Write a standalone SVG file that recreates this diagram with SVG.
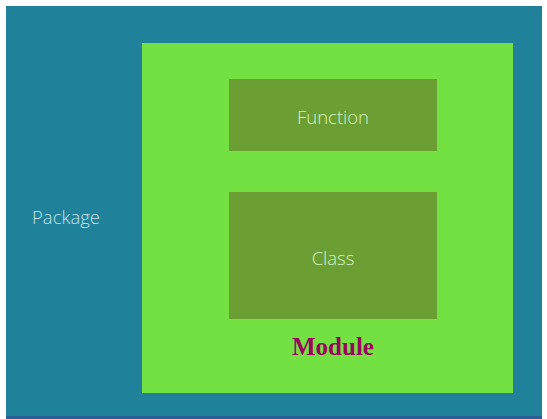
<svg xmlns="http://www.w3.org/2000/svg" width="547" height="419" viewBox="0 0 547 419">
<style>
.lbl{font-family:"Open Sans","Noto Sans","DejaVu Sans",sans-serif;font-size:18.5px;font-weight:300;text-anchor:middle;dominant-baseline:central}
.inner{fill:#6b9f34}
</style>
<rect x="0" y="0" width="547" height="419" fill="#ffffff"/>
<g id="package">
<rect x="6" y="6" width="536" height="411" fill="#20819a"/>
<rect x="6" y="416" width="536" height="3" fill="#2a5f95"/>
<text class="lbl" x="66" y="216" fill="#c2e2ea">Package</text>
</g>
<g id="module">
<rect x="142" y="43" width="371" height="350" fill="#74e143"/>
<text x="333" y="355" text-anchor="middle" font-family="'Liberation Serif',serif" font-weight="bold" font-size="25" fill="#9a0560">Module</text>
</g>
<g id="function">
<rect class="inner" x="229" y="79" width="208" height="72"/>
<text class="lbl" x="333" y="116" fill="#d6f1c2">Function</text>
</g>
<g id="class">
<rect class="inner" x="229" y="192" width="208" height="127"/>
<text class="lbl" x="333" y="257" fill="#d6f1c2">Class</text>
</g>
<g id="connectors"></g>
</svg>
